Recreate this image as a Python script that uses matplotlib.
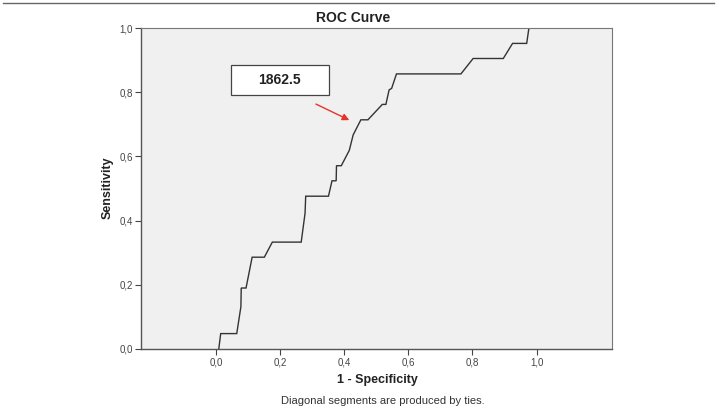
import matplotlib
matplotlib.use("Agg")
import matplotlib.pyplot as plt
from matplotlib.lines import Line2D
from matplotlib.patches import Rectangle

plt.rcParams['font.family'] = ['Liberation Sans', 'DejaVu Sans']

# ROC curve points
fpr = [0.009, 0.015, 0.065, 0.078, 0.079, 0.094, 0.113, 0.151, 0.176, 0.266, 0.278, 0.280,
       0.351, 0.362, 0.375, 0.376, 0.391, 0.416, 0.428, 0.452, 0.474, 0.519, 0.530, 0.540,
       0.548, 0.563, 0.764, 0.802, 0.896, 0.925, 0.969, 0.976, 1.000]
tpr = [0.000, 0.048, 0.048, 0.132, 0.190, 0.190, 0.286, 0.286, 0.333, 0.333, 0.423, 0.476,
       0.476, 0.524, 0.524, 0.571, 0.571, 0.619, 0.667, 0.714, 0.714, 0.762, 0.762, 0.807,
       0.812, 0.857, 0.857, 0.905, 0.905, 0.952, 0.952, 1.000, 1.000]

xticks = [0.0, 0.2, 0.4, 0.6, 0.8, 1.0]
yticks = [0.0, 0.2, 0.4, 0.6, 0.8, 1.0]
xtick_labels = ['0,0', '0,2', '0,4', '0,6', '0,8', '1,0']
ytick_labels = ['0,0', '0,2', '0,4', '0,6', '0,8', '1,0']
cutoff_label = '1862.5'

W, H = 717, 407
fig = plt.figure(figsize=(W / 100, H / 100), dpi=100)
ax = fig.add_axes([141 / W, 1 - 349 / H, (612 - 141) / W, (349 - 28) / H])
ax.set_facecolor('#f0f0f0')
ax.plot(fpr, tpr, color='#333333', lw=1.0, solid_joinstyle='miter')
ax.set_xlim(-0.2335, 1.235)
ax.set_ylim(0, 1.0)
ax.set_xticks(xticks)
ax.set_xticklabels(xtick_labels)
ax.set_yticks(yticks)
ax.set_yticklabels(ytick_labels)
ax.tick_params(axis='both', labelsize=7, labelcolor='#444444', color='#444444',
               length=4, width=0.8, direction='out', pad=2)
for side in ['top', 'right']:
    ax.spines[side].set_color('#777777')
    ax.spines[side].set_linewidth(0.8)
for side in ['left', 'bottom']:
    ax.spines[side].set_color('#555555')
    ax.spines[side].set_linewidth(1.0)

# annotation box and arrow
ax.add_patch(Rectangle((0.046, 0.79), 0.306, 0.095, facecolor='white',
                       edgecolor='#444444', lw=0.9, zorder=3))
ax.text(0.199, 0.837, cutoff_label, ha='center', va='center', fontsize=10,
        fontweight='bold', color='#222222', zorder=4)
ax.annotate('', xy=(0.416, 0.713), xytext=(0.312, 0.763),
            arrowprops=dict(arrowstyle='-|>', color='#e8332a', lw=1.0,
                            mutation_scale=10, shrinkA=0, shrinkB=0))

# texts
fig.text(353 / W, 1 - 18 / H, 'ROC Curve', ha='center', va='center', fontsize=10,
         fontweight='bold', color='#222222')
fig.text(377 / W, 1 - 380 / H, '1 - Specificity', ha='center', va='center', fontsize=9,
         fontweight='bold', color='#222222')
fig.text(383 / W, 1 - 400.5 / H, 'Diagonal segments are produced by ties.', ha='center',
         va='center', fontsize=8, color='#333333')
fig.text(108 / W, 1 - 188 / H, 'Sensitivity', ha='center', va='center', fontsize=9,
         fontweight='bold', color='#222222', rotation=90)

# thin frame line at top of image
fig.add_artist(Line2D([3 / W, 714 / W], [1 - 2.5 / H, 1 - 2.5 / H], color='#666666',
                      lw=1.0, transform=fig.transFigure))

fig.savefig('out.png', dpi=100)
